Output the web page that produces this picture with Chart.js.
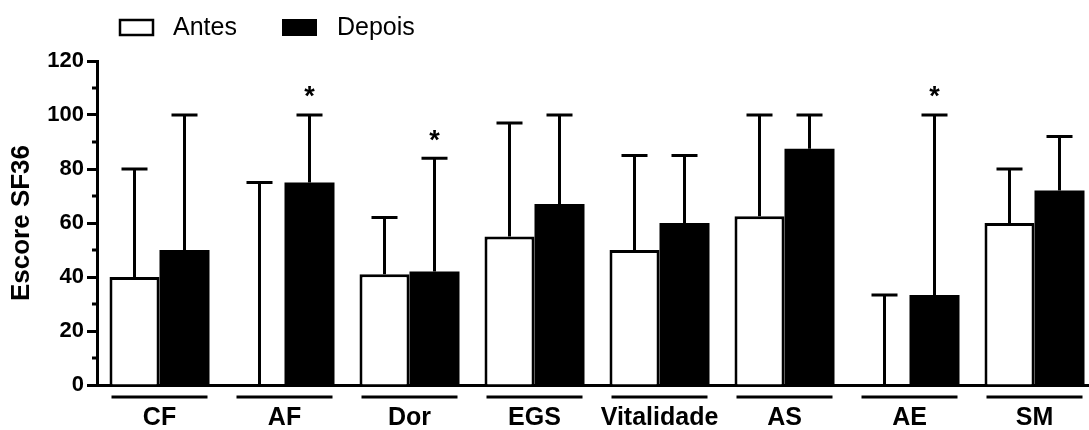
<!DOCTYPE html>
<html>
<head>
<meta charset="utf-8">
<script src="https://cdn.jsdelivr.net/npm/chart.js@4"></script>
<style>
  html, body { margin: 0; padding: 0; overflow: hidden; background: #fff; }
  #wrap { width: 1100px; height: 430px; }
</style>
</head>
<body>
<div id="wrap"><canvas id="chart" width="1100" height="430"></canvas></div>
<script>
const categories = ["CF", "AF", "Dor", "EGS", "Vitalidade", "AS", "AE", "SM"];
const antes = [40, 0, 41, 55, 50, 62.5, 0, 60];
const depois = [50, 75, 42, 67, 60, 87.5, 33.3, 72];
const antesErr = [80, 75, 62, 97, 85, 100, 33.3, 80];
const depoisErr = [100, 100, 84, 100, 85, 100, 100, 92];
const signif = [false, true, true, false, false, false, true, false];
const yTicks = [0, 20, 40, 60, 80, 100, 120];

const FONT = 'Arial, "Liberation Sans", sans-serif';

// error bars (upper only) + asterisks
const errorBars = {
  id: "errorBars",
  afterDatasetsDraw(chart) {
    const ctx = chart.ctx;
    const y = chart.scales.y;
    const errs = [antesErr, depoisErr];
    ctx.save();
    ctx.strokeStyle = "#000";
    ctx.lineWidth = 3;
    errs.forEach((err, d) => {
      chart.getDatasetMeta(d).data.forEach((bar, i) => {
        const top = y.getPixelForValue(err[i]);
        ctx.beginPath();
        ctx.moveTo(bar.x, bar.y);
        ctx.lineTo(bar.x, top);
        ctx.moveTo(bar.x - 13, top);
        ctx.lineTo(bar.x + 13, top);
        ctx.stroke();
        if (d === 1 && signif[i]) {
          ctx.fillStyle = "#000";
          ctx.font = "bold 27px " + FONT;
          ctx.textAlign = "center";
          ctx.textBaseline = "middle";
          ctx.fillText("*", bar.x, top - 17);
        }
      });
    });
    ctx.restore();
  }
};

// minor y ticks, category underlines, legend
const decor = {
  id: "decor",
  afterDraw(chart) {
    const ctx = chart.ctx;
    const x = chart.scales.x;
    const y = chart.scales.y;
    const area = chart.chartArea;
    ctx.save();
    ctx.strokeStyle = "#000";
    ctx.lineWidth = 3;
    for (let v = 10; v < 120; v += 20) {
      const py = y.getPixelForValue(v);
      ctx.beginPath();
      ctx.moveTo(area.left - 5, py);
      ctx.lineTo(area.left, py);
      ctx.stroke();
    }
    categories.forEach((c, i) => {
      const cx = x.getPixelForValue(i);
      ctx.beginPath();
      ctx.moveTo(cx - 48, area.bottom + 12);
      ctx.lineTo(cx + 48, area.bottom + 12);
      ctx.stroke();
    });

    // legend
    ctx.lineWidth = 2.5;
    ctx.strokeRect(120, 20, 33, 15);
    ctx.fillStyle = "#000";
    ctx.fillRect(282, 19, 35, 17);
    ctx.font = "25px " + FONT;
    ctx.textAlign = "left";
    ctx.textBaseline = "middle";
    ctx.fillText("Antes", 173, 28);
    ctx.fillText("Depois", 337, 28);
    ctx.restore();
  }
};

new Chart(document.getElementById("chart"), {
  type: "bar",
  data: {
    labels: categories,
    datasets: [
      {
        label: "Antes",
        data: antes,
        backgroundColor: "#fff",
        borderColor: "#000",
        borderWidth: { top: 3, left: 3, right: 3, bottom: 0 },
        borderSkipped: false,
        categoryPercentage: 0.8,
        barPercentage: 1.0
      },
      {
        label: "Depois",
        data: depois,
        backgroundColor: "#000",
        borderColor: "#000",
        borderWidth: 0,
        categoryPercentage: 0.8,
        barPercentage: 1.0
      }
    ]
  },
  options: {
    responsive: false,
    animation: false,
    layout: { padding: { top: 61, left: 0, right: 3, bottom: 0 } },
    plugins: {
      legend: { display: false },
      tooltip: { enabled: false }
    },
    scales: {
      x: {
        grid: { display: false, drawTicks: false },
        border: { display: true, color: "#000", width: 3 },
        ticks: {
          padding: 18,
          color: "#000",
          font: { family: FONT, size: 25, weight: "bold" },
          maxRotation: 0,
          autoSkip: false
        },
        afterFit(scale) { scale.height = 45; }
      },
      y: {
        min: 0,
        max: 120,
        afterBuildTicks(scale) { scale.ticks = yTicks.map(v => ({ value: v })); },
        grid: {
          drawOnChartArea: false,
          drawTicks: true,
          tickLength: 10,
          tickWidth: 3,
          tickColor: "#000"
        },
        border: { display: true, color: "#000", width: 3 },
        ticks: {
          padding: 3,
          color: "#000",
          font: { family: FONT, size: 22, weight: "bold" }
        },
        title: {
          display: true,
          text: "Escore SF36",
          color: "#000",
          font: { family: FONT, size: 26, weight: "bold" },
          padding: { top: 6, bottom: 0 }
        },
        afterFit(scale) { scale.width = 97; }
      }
    }
  },
  plugins: [errorBars, decor]
});
</script>
</body>
</html>
